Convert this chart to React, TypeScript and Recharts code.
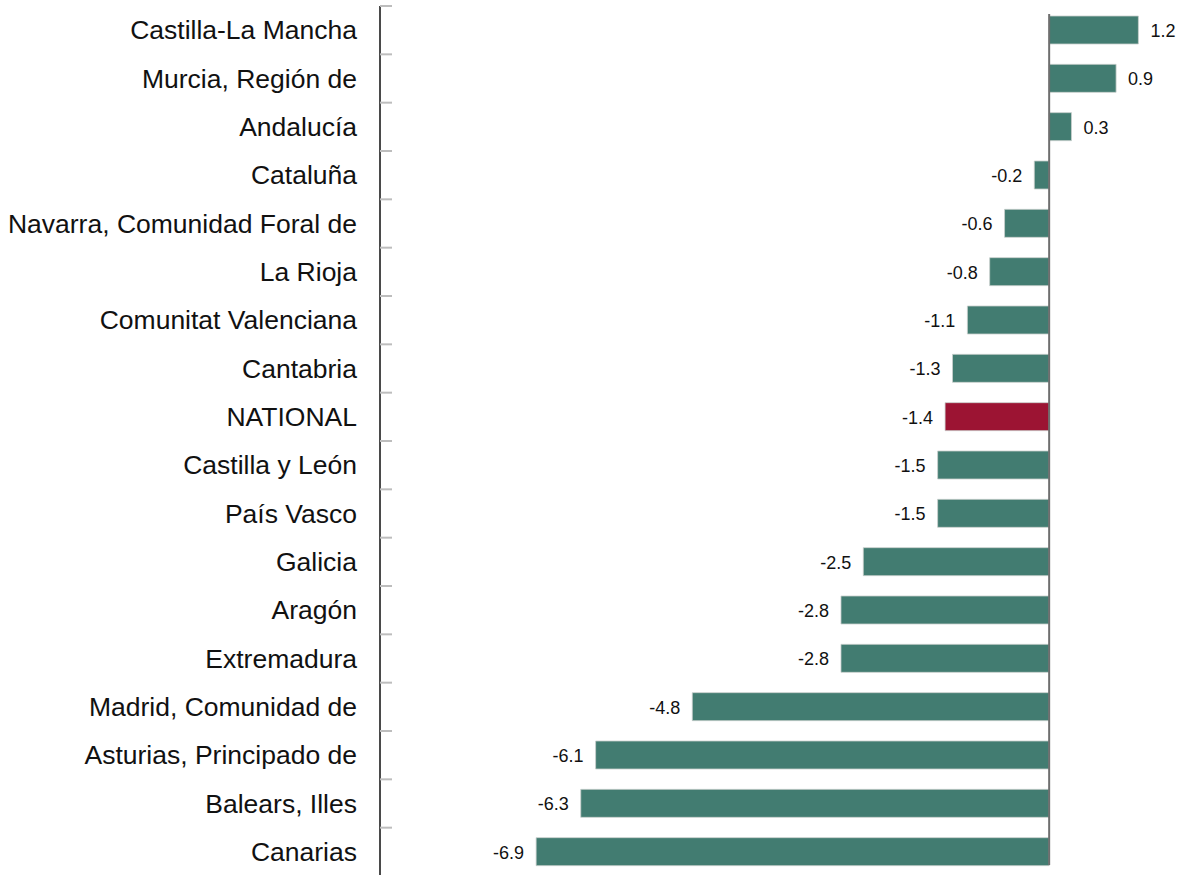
import { Bar, BarChart, Cell, LabelList, ReferenceLine, XAxis, YAxis } from 'recharts';

const regions = [
  'Castilla-La Mancha',
  'Murcia, Región de',
  'Andalucía',
  'Cataluña',
  'Navarra, Comunidad Foral de',
  'La Rioja',
  'Comunitat Valenciana',
  'Cantabria',
  'NATIONAL',
  'Castilla y León',
  'País Vasco',
  'Galicia',
  'Aragón',
  'Extremadura',
  'Madrid, Comunidad de',
  'Asturias, Principado de',
  'Balears, Illes',
  'Canarias',
];

const change = [1.2, 0.9, 0.3, -0.2, -0.6, -0.8, -1.1, -1.3, -1.4, -1.5, -1.5, -2.5, -2.8, -2.8, -4.8, -6.1, -6.3, -6.9];

const xDomain = [-9, 1.8];

const data = regions.map((region, i) => ({ region, value: change[i] }));

const WIDTH = 1183;
const HEIGHT = 881;
const TOP = 6;
const BOTTOM = 5;
const BAND = (HEIGHT - TOP - BOTTOM) / regions.length;
const FONT = '"Liberation Sans", Arial, sans-serif';

const TEAL = '#427c71';
const RED = '#9c1433';

function RegionTick(props: any) {
  const { x, y, payload } = props;
  return (
    <g>
      <line x1={x} x2={x + 12} y1={y - BAND / 2} y2={y - BAND / 2} stroke="#bdbdbd" strokeWidth={2} />
      <text
        x={x - 23}
        y={y}
        textAnchor="end"
        dominantBaseline="central"
        fontSize={26.5}
        fontFamily={FONT}
        fill="#111"
      >
        {payload.value}
      </text>
    </g>
  );
}

function ValueLabel(props: any) {
  const { x, y, width, height, value } = props;
  const left = Math.min(x, x + width);
  const right = Math.max(x, x + width);
  const neg = value < 0;
  return (
    <text
      x={neg ? left - 12 : right + 12}
      y={y + height / 2 + 1}
      textAnchor={neg ? 'end' : 'start'}
      dominantBaseline="central"
      fontSize={18}
      fontFamily={FONT}
      fill="#111"
    >
      {value}
    </text>
  );
}

function ZeroLine(props: any) {
  const { x1, y1, x2, y2 } = props;
  const top = Math.min(y1, y2);
  const bottom = Math.max(y1, y2);
  return <line x1={x1} x2={x2} y1={top + 8} y2={bottom - 11} stroke="#6e6e6e" strokeWidth={2} />;
}

export default function App() {
  return (
    <div style={{ position: 'absolute', left: 0, top: 0, background: '#fff' }}>
      <BarChart
        width={WIDTH}
        height={HEIGHT}
        data={data}
        layout="vertical"
        margin={{ top: TOP, right: 0, bottom: BOTTOM, left: 0 }}
      >
        <XAxis type="number" domain={xDomain} hide allowDataOverflow />
        <YAxis
          type="category"
          dataKey="region"
          width={380}
          tickSize={0}
          tickMargin={0}
          tickLine={false}
          axisLine={{ stroke: '#4a4a4a', strokeWidth: 2 }}
          tick={<RegionTick />}
          interval={0}
        />
        <Bar dataKey="value" barSize={28} isAnimationActive={false} stroke="#c9cfcd" strokeWidth={0.8}>
          {data.map((d) => (
            <Cell key={d.region} fill={d.region === 'NATIONAL' ? RED : TEAL} />
          ))}
          <LabelList dataKey="value" content={<ValueLabel />} />
        </Bar>
        <ReferenceLine x={0} shape={(p: any) => <ZeroLine {...p} />} />
      </BarChart>
    </div>
  );
}
